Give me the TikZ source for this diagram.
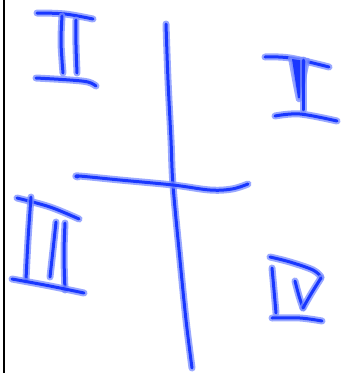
\documentclass[tikz,border=0pt]{standalone}
\definecolor{inkcore}{RGB}{25,55,255}
\definecolor{inkhalo}{RGB}{120,140,255}
\tikzset{
  pen/.style={line cap=round,line join=round}
}
\newcommand{\inkstroke}[1]{%
  \draw[pen,inkhalo,opacity=0.75,line width=7pt] plot[smooth,tension=0.6] coordinates {#1};
  \draw[pen,inkcore,line width=3pt] plot[smooth,tension=0.6] coordinates {#1};
}
\begin{document}
\begin{tikzpicture}[x=1pt,y=-1pt]
\useasboundingbox (0,0) rectangle (341,373);
\fill[white] (0,0) rectangle (341,373);
% left border line
\draw[black,line width=2pt] (4,0) -- (4,373);
% axes
\inkstroke{(166,24) (168,80) (171,140) (173,185) (180,260) (186,320) (192,368)}
\inkstroke{(78,177) (79,176) (120,180) (173,185) (210,190) (232,189) (248,184)}
% II
\inkstroke{(37,13) (65,14) (93,19)}
\inkstroke{(62,16) (61,40) (62,60) (63,73)}
\inkstroke{(76,20) (76,45) (77,73)}
\inkstroke{(36,78) (70,80) (88,82) (96,86)}
% I
\inkstroke{(265,57) (290,58) (329,67)}
\draw[pen,inkhalo,opacity=0.75,line width=4pt,fill=inkhalo] (290,58) -- (308,60) -- (303,85) -- (300,100) -- (298,100) -- (295,85) -- cycle;
\fill[inkcore] (292,59) -- (306,61) -- (302,85) -- (300,98) -- (298,98) -- (296,85) -- cycle;
\inkstroke{(303,60) (303,85) (303,110)}
\inkstroke{(275,116) (300,114) (337,121)}
% III
\inkstroke{(17,198) (50,207) (79,219)}
\inkstroke{(31,197) (28,240) (26,280)}
\inkstroke{(56,222) (53,250) (50,277)}
\inkstroke{(65,223) (64,255) (65,290)}
\inkstroke{(12,279) (50,286) (84,293)}
% IV
\inkstroke{(270,257) (290,262) (313,270) (321,277)}
\inkstroke{(272,268) (274,290) (276,313)}
\inkstroke{(295,281) (299,296) (303,308)}
\inkstroke{(321,278) (311,294) (303,308)}
\inkstroke{(272,318) (300,318) (322,321)}
\end{tikzpicture}
\end{document}
